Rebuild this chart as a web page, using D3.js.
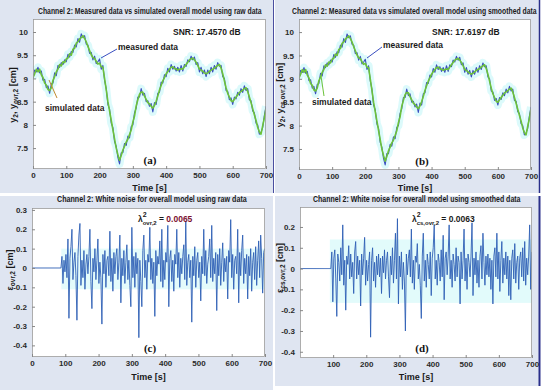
<!DOCTYPE html>
<html><head><meta charset="utf-8">
<script src="https://cdn.jsdelivr.net/npm/d3@7"></script>
<style>body{margin:0;background:#fff}svg{display:block}</style>
</head><body>
<svg id="c" width="550" height="390"></svg>
<script>
// ---------- DATA ----------
const timeStep5 = 5;     // s, sample spacing of level series
const timeStep3 = 3;     // s, sample spacing of noise series
const xTicksTop = [0,100,200,300,400,500,600,700];
const xTicksD = [100,200,300,400,500,600,700];
const yTicksLevel = [7.5,8,8.5,9,9.5,10];
const yTicksNoiseC = [0.3,0.2,0.1,0,-0.1,-0.2,-0.3,-0.4];
const yTicksNoiseD = [0.2,0.1,0,-0.1,-0.2,-0.3,-0.4];

const measured = [9.00,9.18,9.14,9.24,9.12,9.16,8.96,8.98,8.80,8.84,8.68,8.88,8.90,9.12,9.06,9.28,9.24,9.34,9.30,9.40,
9.36,9.52,9.46,9.58,9.56,9.72,9.68,9.86,9.78,9.96,9.88,9.92,9.74,9.72,9.54,9.56,9.40,9.48,9.32,9.36,
9.42,9.20,9.28,8.96,8.78,8.44,8.34,8.04,7.94,7.64,7.54,7.30,7.16,7.40,7.40,7.60,7.56,7.76,7.72,7.96,
8.00,8.26,8.36,8.60,8.60,8.78,8.64,8.68,8.50,8.52,8.40,8.46,8.28,8.48,8.44,8.68,8.70,8.92,8.90,9.08,
9.04,9.22,9.14,9.30,9.20,9.26,9.16,9.24,9.14,9.28,9.16,9.30,9.26,9.40,9.36,9.48,9.40,9.46,9.30,9.34,
9.14,9.24,9.10,9.18,9.04,9.18,9.10,9.24,9.14,9.28,9.20,9.34,9.26,9.28,9.04,9.00,8.74,8.72,8.54,8.58,
8.44,8.60,8.56,8.70,8.64,8.78,8.70,8.84,8.74,8.78,8.54,8.52,8.30,8.26,8.04,8.00,7.80,7.84,7.94,8.20,8.40];

const simulated = [9.02,9.10,9.20,9.14,9.20,9.08,9.02,8.90,8.86,8.76,8.74,8.80,8.96,9.04,9.14,9.20,9.30,9.27,9.36,9.34,
9.42,9.44,9.53,9.50,9.63,9.65,9.76,9.79,9.85,9.88,9.92,9.86,9.79,9.69,9.60,9.51,9.45,9.43,9.37,9.31,
9.33,9.25,9.24,9.00,8.76,8.50,8.30,8.10,7.90,7.70,7.50,7.36,7.24,7.34,7.46,7.54,7.63,7.69,7.79,7.89,
8.06,8.19,8.41,8.54,8.66,8.71,8.70,8.62,8.55,8.48,8.45,8.40,8.36,8.42,8.51,8.62,8.75,8.85,8.95,9.02,
9.10,9.15,9.20,9.24,9.25,9.21,9.21,9.18,9.20,9.21,9.20,9.25,9.30,9.35,9.40,9.42,9.44,9.40,9.35,9.28,
9.20,9.18,9.15,9.12,9.10,9.12,9.15,9.18,9.20,9.22,9.25,9.28,9.30,9.22,9.10,8.95,8.80,8.68,8.60,8.52,
8.50,8.55,8.60,8.65,8.70,8.72,8.75,8.78,8.80,8.72,8.60,8.48,8.35,8.22,8.10,7.95,7.85,7.80,7.98,8.15,8.35];

// white noise, raw data (t = 0,3,...,699)
const noiseRaw = [0,0,0,0,0,0,0,0,0,0,0,0,0,0,0,0,0,0,0,0,0,0,0,0,0,0,0,0,0,0,
0.06,-0.08,0.04,-0.02,0.07,-0.05,0.15,-0.26,0.05,0.11,
0.20,-0.06,0.03,0.08,-0.04,-0.27,0.06,0.17,0.23,-0.09,
0.04,-0.05,0.09,-0.11,0.02,0.07,-0.03,0.06,0.20,-0.07,
-0.21,0.05,-0.02,0.10,-0.06,0.04,0.15,-0.08,0.03,-0.05,
-0.29,0.07,-0.03,0.09,-0.10,0.04,0.06,-0.04,0.19,-0.07,
0.05,-0.12,0.08,-0.03,0.06,0.10,-0.06,0.03,0.17,-0.18,
0.05,-0.04,0.09,-0.08,0.03,0.12,-0.06,0.04,-0.09,-0.20,
0.21,-0.05,0.06,-0.10,0.08,-0.03,0.05,-0.36,0.04,-0.07,
-0.20,0.09,0.17,-0.05,0.04,-0.11,0.07,0.03,0.21,-0.06,
0.05,-0.08,0.03,-0.25,0.09,-0.04,0.06,0.02,0.14,-0.07,
0.20,-0.10,0.04,-0.06,0.08,0.03,0.22,-0.20,0.05,0.09,
-0.07,0.04,-0.12,0.07,0.02,0.20,-0.05,0.08,-0.10,0.05,
-0.03,0.06,0.12,-0.06,0.24,-0.09,0.03,0.07,-0.05,0.04,
-0.28,0.06,-0.04,0.11,-0.10,0.04,0.08,-0.05,0.03,-0.17,
0.06,-0.03,0.20,-0.04,0.09,-0.08,0.02,0.06,0.15,-0.05,
0.22,-0.07,0.05,-0.03,0.08,-0.22,0.07,-0.04,0.10,-0.09,
0.03,0.13,-0.07,0.05,-0.02,0.06,-0.16,0.09,0.03,0.25,
-0.05,0.07,-0.11,0.04,0.06,-0.03,0.20,-0.18,0.08,-0.04,
0.09,0.17,-0.08,0.05,-0.03,0.07,-0.16,0.06,-0.04,0.10,
-0.12,0.03,0.08,-0.06,0.11,-0.09,0.04,0.14,-0.05,0.17,
0.05,-0.13,0.08,0.10];

// white noise, smoothed data (t = 0,3,...,699)
const noiseSmooth = [0,0,0,0,0,0,0,0,0,0,0,0,0,0,0,0,0,0,0,0,0,0,0,0,0,0,0,0,0,0,0,0,
0.08,-0.16,0.05,0.09,-0.05,-0.23,0.07,0.03,-0.06,0.10,
-0.03,0.21,-0.08,0.04,-0.20,0.06,0.02,0.11,-0.05,0.07,
-0.04,0.03,-0.12,0.08,0.13,-0.05,0.06,-0.03,0.04,-0.18,
0.07,-0.03,0.05,0.15,-0.08,0.04,-0.06,0.02,0.08,-0.33,
0.04,0.10,-0.06,0.03,-0.09,0.06,-0.03,0.07,-0.04,0.05,
-0.12,0.06,-0.02,0.09,-0.05,0.04,0.08,-0.04,-0.14,0.06,
-0.03,0.10,-0.07,0.04,0.17,-0.05,0.24,-0.17,0.06,-0.04,
0.08,-0.10,0.03,-0.06,-0.30,0.07,-0.03,0.05,0.09,-0.04,
0.19,-0.07,0.04,-0.10,0.06,0.03,0.12,-0.05,0.02,-0.08,
-0.24,0.06,0.17,-0.06,0.04,-0.09,0.07,0.02,-0.05,0.08,
-0.13,0.05,0.10,0.21,-0.05,0.04,-0.08,0.07,0.03,-0.06,
0.09,-0.04,0.16,-0.15,0.05,0.08,-0.03,0.06,0.21,-0.05,
0.04,-0.09,0.07,0.02,-0.06,0.10,-0.04,0.06,0.03,-0.17,
0.08,-0.05,0.04,0.19,-0.06,0.05,-0.10,0.07,0.03,-0.04,
0.06,0.22,-0.13,0.05,-0.03,0.08,-0.07,0.04,-0.09,0.06,
0.11,-0.05,0.17,0.03,-0.08,0.06,-0.03,0.07,-0.04,0.05,
-0.10,0.04,-0.17,0.06,0.10,-0.04,0.17,-0.05,0.08,-0.11,
0.04,0.13,-0.07,0.05,-0.03,0.08,-0.05,0.06,-0.13,0.04,
-0.15,0.05,0.09,-0.05,0.12,-0.07,0.03,0.06,-0.10,0.05,
0.08,-0.04,0.10,-0.06,0.13,-0.08,0.05,-0.03,0.06,0.21,
-0.10,0.08];

// ---------- DRAW ----------
const svg = d3.select("#c");
const FONT = "'Liberation Sans', Arial, sans-serif";

const bgs = [[0,0,273,193],[275,0,265,193],[0,196,273,194],[275,196,265,190]];
svg.selectAll("rect.bg").data(bgs).join("rect").attr("class","bg")
  .attr("x",d=>d[0]).attr("y",d=>d[1]).attr("width",d=>d[2]).attr("height",d=>d[3])
  .attr("fill","#dfe5f1");
svg.append("line").attr("x1",273.5).attr("x2",273.5).attr("y1",0).attr("y2",193).attr("stroke","#4a4fa0").attr("stroke-width",1);
svg.append("line").attr("x1",539.5).attr("x2",539.5).attr("y1",0).attr("y2",193).attr("stroke","#2a2f8a").attr("stroke-width",1.5);
svg.append("line").attr("x1",539.5).attr("x2",539.5).attr("y1",196).attr("y2",386).attr("stroke","#2a2f8a").attr("stroke-width",2);

function squishedText(parent, x, y, w, size, s){
  const t = parent.append("text").attr("font-family",FONT).attr("font-size",size)
    .attr("font-weight","bold").attr("fill","#1a1a1a").text(s);
  const len = t.node().getComputedTextLength() || w;
  t.attr("transform",`translate(${x},${y}) scale(${w/len},1)`);
  return t;
}

function panel(cfg){
  const x = d3.scaleLinear().domain([0,700]).range([cfg.x0,cfg.x1]);
  const y = d3.scaleLinear().domain(cfg.ydom).range([cfg.y1,cfg.y0]);
  const g = svg.append("g");
  g.append("rect").attr("x",cfg.x0).attr("y",cfg.y0).attr("width",cfg.x1-cfg.x0).attr("height",cfg.y1-cfg.y0)
    .attr("fill","#fff");
  const clip = "clip"+cfg.id;
  svg.append("clipPath").attr("id",clip).append("rect").attr("x",cfg.x0).attr("y",cfg.y0)
    .attr("width",cfg.x1-cfg.x0).attr("height",cfg.y1-cfg.y0);
  const plot = g.append("g").attr("clip-path",`url(#${clip})`);
  if(cfg.band){
    plot.append("rect").attr("x",x(cfg.band[0])).attr("width",x(700)-x(cfg.band[0]))
      .attr("y",y(cfg.band[2])).attr("height",y(cfg.band[1])-y(cfg.band[2])).attr("fill",cfg.band[3]);
  }
  cfg.series.forEach(s=>{
    const line = d3.line().x((d,i)=>x(i*s.step)).y(d=>y(d));
    if(s.halo) plot.append("path").attr("d",line(s.data)).attr("fill","none")
      .attr("stroke",s.halo).attr("stroke-width",8).attr("stroke-linejoin","round").attr("opacity",0.22);
    plot.append("path").attr("d",line(s.data)).attr("fill","none")
      .attr("stroke",s.color).attr("stroke-width",s.width).attr("stroke-linejoin","round");
  });
  g.append("rect").attr("x",cfg.x0+0.5).attr("y",cfg.y0+0.5).attr("width",cfg.x1-cfg.x0-1).attr("height",cfg.y1-cfg.y0-1)
    .attr("fill","none").attr("stroke","#9a9a9a").attr("stroke-width",0.8);
  const ax = g.append("g").attr("transform",`translate(0,${cfg.y1})`)
    .call(d3.axisBottom(x).tickValues(cfg.xticks).tickSize(-3).tickPadding(3).tickFormat(d3.format("d")));
  const ay = g.append("g").attr("transform",`translate(${cfg.x0},0)`)
    .call(d3.axisLeft(y).tickValues(cfg.yticks).tickSize(-3).tickPadding(5).tickFormat(d=>String(d)));
  [ax,ay].forEach(a=>{
    a.select(".domain").remove();
    a.selectAll(".tick line").attr("stroke","#888");
    a.selectAll("text").attr("font-family",FONT).attr("font-size",8).attr("font-weight","bold").attr("fill","#2a2a2a");
  });
  squishedText(g, cfg.title.x, cfg.title.y, cfg.title.w, 9.5, cfg.title.text);
  g.append("text").attr("x",(cfg.x0+cfg.x1)/2).attr("y",cfg.y1+cfg.xlabDy).attr("text-anchor","middle")
    .attr("font-family",FONT).attr("font-size",9).attr("font-weight","bold").attr("fill","#1a1a1a").text("Time [s]");
  g.append("text").attr("x",cfg.letter.x).attr("y",cfg.letter.y).attr("text-anchor","middle")
    .attr("font-family","'Liberation Serif', serif").attr("font-size",11).attr("font-weight","bold").attr("fill","#111")
    .text(cfg.letter.text);
  const yl = g.append("text").attr("transform",`translate(${cfg.ylab.x},${cfg.ylab.y}) rotate(-90)`)
    .attr("text-anchor","middle").attr("font-family",FONT).attr("font-size",9).attr("font-weight","bold").attr("fill","#1a1a1a");
  cfg.ylab.parts.forEach(p=>{
    const t = yl.append("tspan").text(p[0]);
    if(p[1]==="sub") t.attr("font-size",6.5).attr("baseline-shift","-25%");
  });
  return {g,x,y};
}

panel({id:"a",x0:33,x1:266,y0:19,y1:169,ydom:[7.05,10.28],xticks:xTicksTop,yticks:yTicksLevel,xlabDy:22,
  series:[{data:measured,step:timeStep5,color:"#3a4fc0",width:1.1,halo:"#5fe6ec"},
          {data:simulated,step:timeStep5,color:"#6cc23a",width:1.6}],
  title:{x:38,y:14,w:224,text:"Channel 2: Measured data vs simulated overall model using raw data"},
  letter:{x:150,y:164,text:"(a)"},
  ylab:{x:16,y:95,parts:[["y"],["2","sub"],[", y"],["ovr,2","sub"],[" [cm]"]]}});
panel({id:"b",x0:299,x1:531,y0:19,y1:170,ydom:[7.05,10.28],xticks:xTicksTop,yticks:yTicksLevel,xlabDy:21,
  series:[{data:measured,step:timeStep5,color:"#3a4fc0",width:1.1,halo:"#5fe6ec"},
          {data:simulated,step:timeStep5,color:"#6cc23a",width:1.6}],
  title:{x:292,y:14,w:245,text:"Channel 2: Measured data vs simulated overall model using smoothed data"},
  letter:{x:422,y:165,text:"(b)"},
  ylab:{x:283,y:95,parts:[["y"],["2","sub"],[", y"],["cs,ovr,2","sub"],[" [cm]"]]}});
panel({id:"c",x0:32,x1:265,y0:208,y1:357,ydom:[-0.46,0.31],xticks:xTicksTop,yticks:yTicksNoiseC,xlabDy:23,
  band:[88,-0.11,0.1,"#e4fbfb"],
  series:[{data:noiseRaw,step:timeStep3,color:"#2f60b5",width:0.9}],
  title:{x:57,y:202,w:190,text:"Channel 2: White noise for overall model using raw data"},
  letter:{x:150,y:352,text:"(c)"},
  ylab:{x:13,y:270,parts:[["ε"],["ovr,2","sub"],[" [cm]"]]}});
panel({id:"d",x0:300,x1:532,y0:207,y1:358,ydom:[-0.43,0.296],xticks:xTicksD,yticks:yTicksNoiseD,xlabDy:22,
  band:[90,-0.165,0.14,"#e2fbfb"],
  series:[{data:noiseSmooth,step:timeStep3,color:"#2f60b5",width:0.9}],
  title:{x:313,y:202,w:208,text:"Channel 2: White noise for overall model using smoothed data"},
  letter:{x:422,y:352,text:"(d)"},
  ylab:{x:283,y:268,parts:[["ε"],["cs,ovr,2","sub"],[" [cm]"]]}});

function txt(x,y,s,opts={}){
  return svg.append("text").attr("x",x).attr("y",y).attr("font-family",FONT).attr("font-size",opts.size||8.5)
    .attr("font-weight","bold").attr("fill",opts.fill||"#1a1a1a").text(s);
}
txt(173,35,"SNR:  17.4570 dB");
txt(432,35,"SNR:  17.6197 dB");
txt(118,50,"measured data");
txt(383,48,"measured data");
txt(45,111,"simulated data",{fill:"#2a1a1a"});
txt(312,105,"simulated data");
const arrows = [[101,58,117,49,"#3a4fc0"],[367,58,382,47,"#3a4fc0"],[57,98,49,80,"#c08a30"],[324,96,321,76,"#6cc23a"]];
svg.selectAll("line.ann").data(arrows).join("line").attr("class","ann")
  .attr("x1",d=>d[0]).attr("y1",d=>d[1]).attr("x2",d=>d[2]).attr("y2",d=>d[3]).attr("stroke",d=>d[4]).attr("stroke-width",1);

function lam(x,y,sub,val,valFill){
  const t = svg.append("text").attr("x",x).attr("y",y).attr("font-family",FONT).attr("font-size",8.5).attr("font-weight","bold").attr("fill","#1a1a1a");
  t.append("tspan").text("λ");
  t.append("tspan").attr("font-size",7).attr("dy",-5).text("2");
  t.append("tspan").attr("font-size",6).attr("dy",8).attr("dx",-4).text(sub);
  t.append("tspan").attr("dy",-3).text(" =  ");
  t.append("tspan").attr("fill",valFill).text(val);
}
lam(138,222,"ovr,2","0.0065","#7a1030");
lam(412,222,"cs,ovr,2","0.0063","#1a1a1a");
</script>
</body></html>
